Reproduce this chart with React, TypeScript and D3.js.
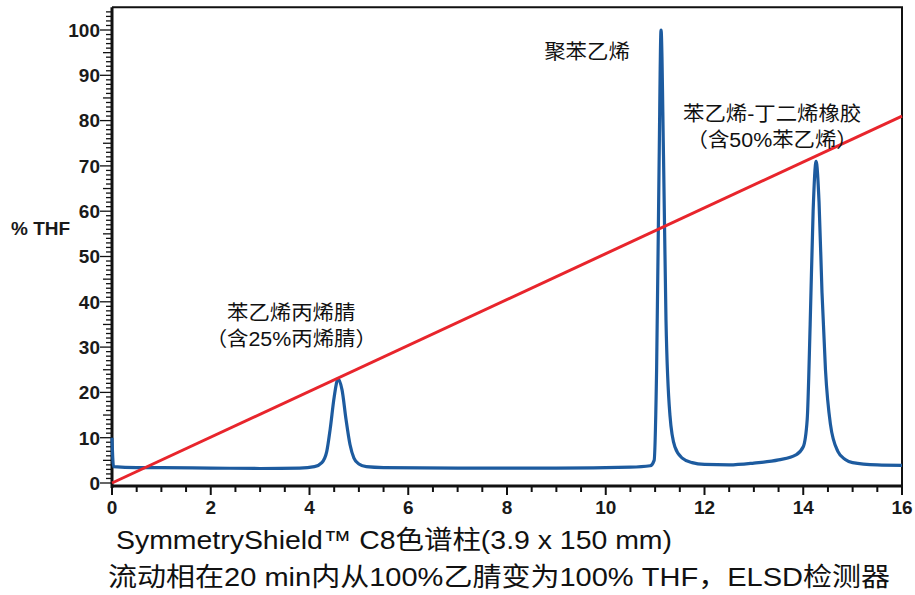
import React, { useEffect, useRef } from 'react'
import * as d3 from 'd3'

// ELSD trace (time in min, signal in % scale)
const traceTime = [0, 0.03, 0.5, 1, 2, 3, 3.8, 4.1, 4.25, 4.35, 4.42, 4.5, 4.58, 4.66, 4.74, 4.82, 4.9, 5.0, 5.15, 5.5, 7, 9, 10.5, 10.9, 10.98, 11.03, 11.08, 11.12, 11.17, 11.22, 11.3, 11.4, 11.55, 11.75, 12.0, 12.5, 13.0, 13.5, 13.85, 14.0, 14.08, 14.14, 14.2, 14.26, 14.32, 14.38, 14.45, 14.55, 14.7, 14.85, 15.0, 15.5, 16]
const traceValue = [10, 3.6, 3.4, 3.4, 3.3, 3.2, 3.3, 3.6, 4.5, 7, 12, 19, 23, 20.5, 14, 8.5, 5.5, 4.2, 3.6, 3.4, 3.3, 3.3, 3.5, 3.8, 5, 25, 70, 100, 72, 36, 15, 8, 5.5, 4.5, 4.1, 4.0, 4.4, 5.1, 6.2, 8, 14, 35, 60, 71, 62, 42, 25, 13, 7, 5.2, 4.5, 4.0, 3.9]

// gradient, % THF
const gradTime = [0, 16]
const gradValue = [0, 81]

const xTicks = [0, 2, 4, 6, 8, 10, 12, 14, 16]
const yTicks = [0, 10, 20, 30, 40, 50, 60, 70, 80, 90, 100]

const peakLabels = [
  { t: 9.62, v: 93.5, lines: ['聚苯乙烯'] },
  { t: 13.37, v: 80, lines: ['苯乙烯-丁二烯橡胶', '（含50%苯乙烯）'] },
  { t: 3.63, v: 36, lines: ['苯乙烯丙烯腈', '（含25%丙烯腈）'] }
]

const captionLines = [
  'SymmetryShield™ C8色谱柱(3.9 x 150 mm)',
  '流动相在20 min内从100%乙腈变为100% THF，ELSD检测器'
]

const width = 915
const height = 595
const labelFont = '"Liberation Sans", Arial, sans-serif'
const cjkFont = '"Liberation Sans", Arial, "Noto Sans CJK SC", sans-serif'

export default function App () {
  const ref = useRef<SVGSVGElement>(null)

  useEffect(() => {
    const svg = d3.select(ref.current)
    svg.selectAll('*').remove()

    const x = d3.scaleLinear().domain([0, 16]).range([112, 902])
    const y = d3.scaleLinear().domain([0, 100]).range([483, 30])
    const axisY = 486
    const topY = y(105)

    // frame
    svg.append('path')
      .attr('d', `M${x(0)},${topY}H${x(16)}V${axisY}`)
      .attr('fill', 'none')
      .attr('stroke', '#111')
      .attr('stroke-width', 2)

    // y minor/major ticks
    const yAll = d3.range(0, 105)
    svg.append('g')
      .selectAll('line')
      .data(yAll)
      .enter()
      .append('line')
      .attr('x1', d => x(0) - (d % 10 === 0 ? 12 : d % 5 === 0 ? 9 : 6))
      .attr('x2', x(0))
      .attr('y1', d => y(d))
      .attr('y2', d => y(d))
      .attr('stroke', '#111')
      .attr('stroke-width', 1.3)

    svg.append('g')
      .selectAll('text')
      .data(yTicks)
      .enter()
      .append('text')
      .attr('x', x(0) - 12)
      .attr('y', d => y(d))
      .attr('dy', '0.36em')
      .attr('text-anchor', 'end')
      .attr('font-family', labelFont)
      .attr('font-weight', 'bold')
      .attr('font-size', 19)
      .attr('fill', '#1a1a1a')
      .text(d => d)

    // x ticks
    const xAll = d3.range(0, 16.01, 0.5)
    svg.append('g')
      .selectAll('line')
      .data(xAll)
      .enter()
      .append('line')
      .attr('x1', d => x(d))
      .attr('x2', d => x(d))
      .attr('y1', axisY)
      .attr('y2', d => axisY + (d % 2 === 0 ? 9 : 6))
      .attr('stroke', '#111')
      .attr('stroke-width', 2)

    svg.append('g')
      .selectAll('text')
      .data(xTicks)
      .enter()
      .append('text')
      .attr('x', d => x(d))
      .attr('y', 514)
      .attr('text-anchor', 'middle')
      .attr('font-family', labelFont)
      .attr('font-weight', 'bold')
      .attr('font-size', 19)
      .attr('fill', '#1a1a1a')
      .text(d => d)

    // axis lines
    svg.append('line')
      .attr('x1', x(0)).attr('x2', x(0))
      .attr('y1', topY).attr('y2', axisY + 2)
      .attr('stroke', '#111').attr('stroke-width', 3)
    svg.append('line')
      .attr('x1', x(0) - 1).attr('x2', x(16) + 1)
      .attr('y1', axisY).attr('y2', axisY)
      .attr('stroke', '#111').attr('stroke-width', 3)

    svg.append('text')
      .attr('x', 11)
      .attr('y', 235)
      .attr('font-family', labelFont)
      .attr('font-weight', 'bold')
      .attr('font-size', 19)
      .attr('fill', '#1a1a1a')
      .text('% THF')

    // trace
    const trace = traceTime.map((t, i) => [t, traceValue[i]] as [number, number])
    const line = d3.line<[number, number]>()
      .x(d => x(d[0]))
      .y(d => y(d[1]))
      .curve(d3.curveMonotoneX)

    svg.append('path')
      .datum(trace)
      .attr('fill', 'none')
      .attr('stroke', '#1d5b9f')
      .attr('stroke-width', 3.2)
      .attr('stroke-linejoin', 'round')
      .attr('d', line)

    const grad = gradTime.map((t, i) => [t, gradValue[i]] as [number, number])
    svg.append('path')
      .datum(grad)
      .attr('fill', 'none')
      .attr('stroke', '#e8252c')
      .attr('stroke-width', 3)
      .attr('d', d3.line<[number, number]>().x(d => x(d[0])).y(d => y(d[1])))

    // peak annotations (source art is slightly stretched horizontally)
    peakLabels.forEach(p => {
      const t = svg.append('text')
        .attr('transform', `translate(${x(p.t)},${y(p.v)}) scale(1.07,1)`)
        .attr('text-anchor', 'middle')
        .attr('font-family', cjkFont)
        .attr('font-size', 20)
        .attr('fill', '#111')
      p.lines.forEach((s, i) => {
        t.append('tspan').attr('x', 0).attr('dy', i === 0 ? 0 : 26).text(s)
      })
    })

    // caption
    const capLen = [556, 782]
    svg.append('g')
      .selectAll('text')
      .data(captionLines)
      .enter()
      .append('text')
      .attr('x', (d, i) => i === 0 ? 116 : 108)
      .attr('y', (d, i) => 549 + i * 37)
      .attr('textLength', (d, i) => capLen[i])
      .attr('lengthAdjust', 'spacingAndGlyphs')
      .attr('font-family', cjkFont)
      .attr('font-size', 26)
      .attr('fill', '#111')
      .text(d => d)
  }, [])

  return (
    <svg ref={ref} width={width} height={height}
      style={{ position: 'absolute', left: 0, top: 0, background: '#fff' }} />
  )
}
